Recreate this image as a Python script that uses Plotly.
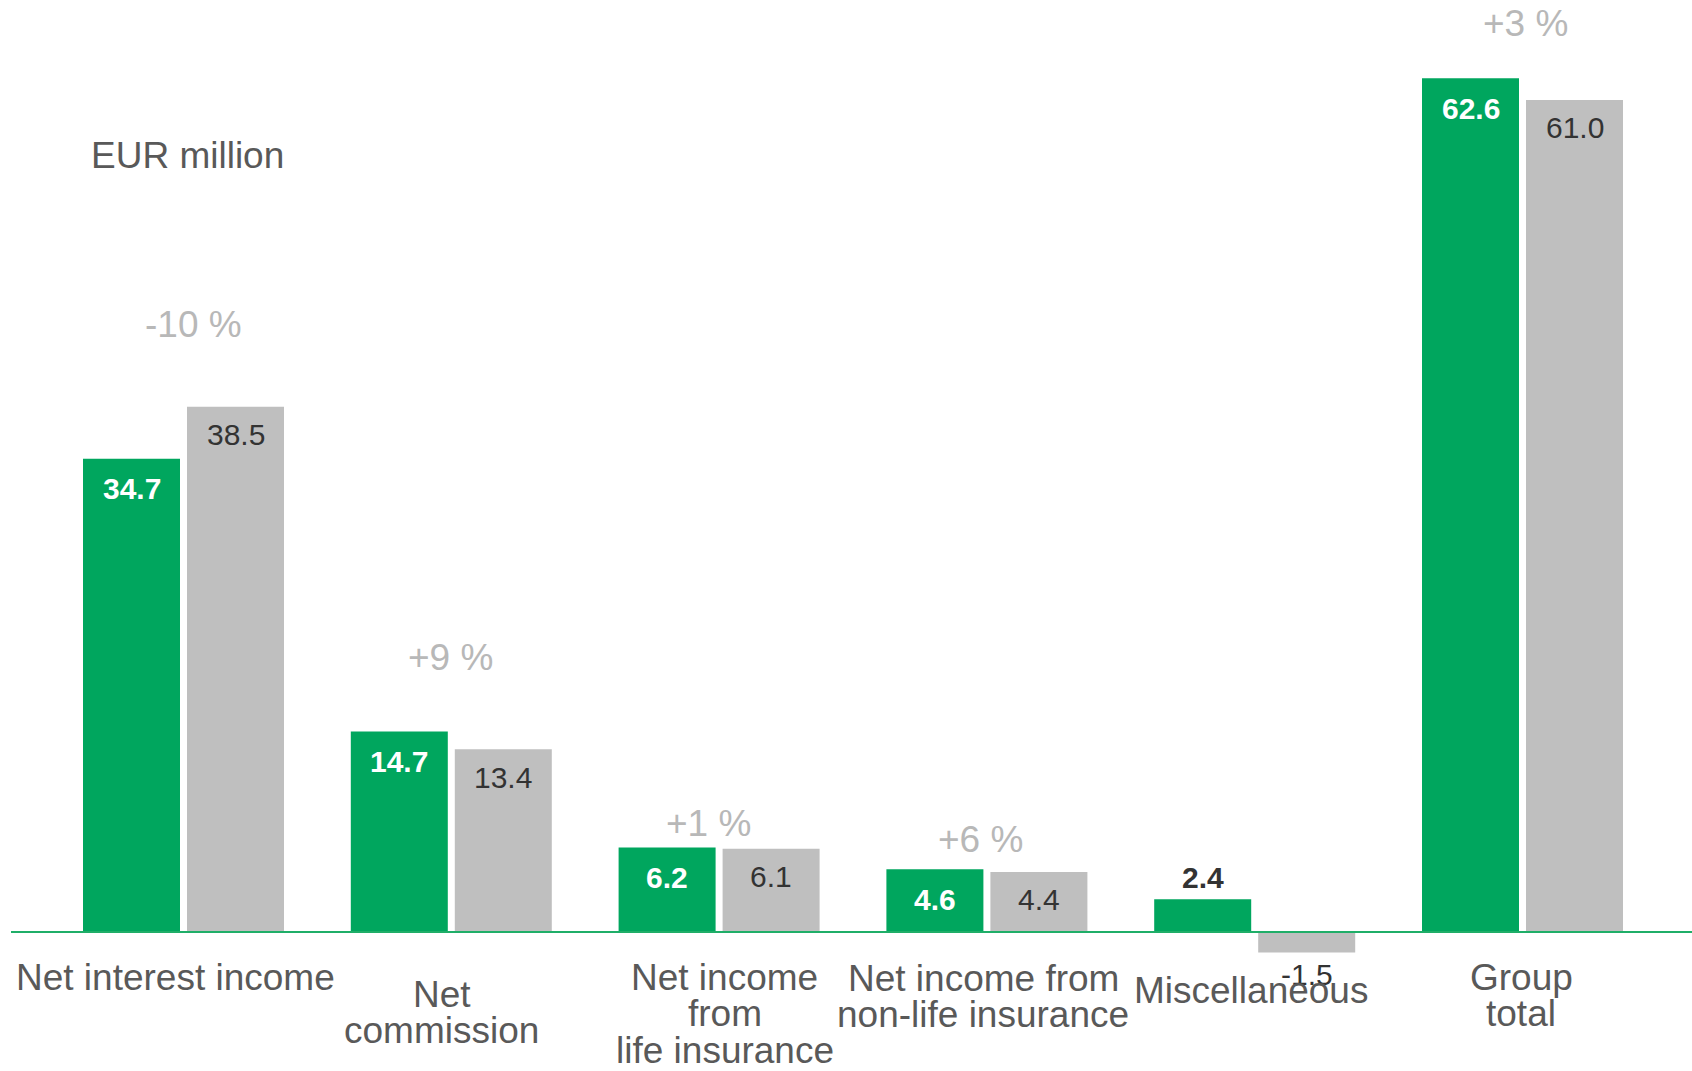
import plotly.graph_objects as go

# ---------------- data ----------------
categories = ["Net interest income", "Net commission", "Net income from life insurance",
              "Net income from non-life insurance", "Miscellaneous", "Group total"]
current_year = [34.7, 14.7, 6.2, 4.6, 2.4, 62.6]
previous_year = [38.5, 13.4, 6.1, 4.4, -1.5, 61.0]
change_labels = ["-10 %", "+9 %", "+1 %", "+6 %", "", "+3 %"]
label_lines = [["Net interest income"], ["Net", "commission"],
               ["Net income", "from", "life insurance"],
               ["Net income from", "non-life insurance"], ["Miscellaneous"],
               ["Group", "total"]]
unit_label = "EUR million"

# ---------------- layout / style ----------------
W, H = 1692, 1071
ML = 11
ZERO_PX = 932
PX_PER_UNIT = 13.64
CAT_PX = 267.8
FIRST_CENTER_PX = 183.5
BARGAP = 0.2233
BARGROUPGAP = 0.0673

GREEN = "#00A65E"
GRAY = "#BFBFBF"
LINE_GREEN = "#1FAE68"
LABEL_COLOR = "#595959"
DARK = "#333333"
PCT_COLOR = "#B8B8B8"
FONT = "Liberation Sans, Arial, sans-serif"
TEXT_SIZE = 37
VALUE_SIZE = 30

# category label placement (pixel y of first line centre, x shift)
label_first_px = [977.5, 994, 977, 978, 990, 977]
label_line_step = 36.5
label_xshift = [-8.5, -9.5, 5.5, -3.5, -3.5, -1.5]
# percent label placement relative to taller bar
pct_xshift = [10, -0.5, -11, -6.5, 0, 2.5]
pct_yshift = [82, 74, 24, 30, 0, 55]

x0 = -(FIRST_CENTER_PX - ML) / CAT_PX
x1 = x0 + (W - ML) / CAT_PX
y0 = -(H - ZERO_PX) / PX_PER_UNIT
y1 = ZERO_PX / PX_PER_UNIT

fig = go.Figure()
fig.add_trace(go.Bar(x=categories, y=current_year, marker=dict(color=GREEN, line=dict(width=0)),
                     name="current", hoverinfo="skip"))
fig.add_trace(go.Bar(x=categories, y=previous_year, marker=dict(color=GRAY, line=dict(width=0)),
                     name="previous", hoverinfo="skip"))

annotations = []
off = (1 - BARGAP) / 4.0
for i, (c, p) in enumerate(zip(current_year, previous_year)):
    # green value labels
    if c >= 3:
        annotations.append(dict(x=i - off, y=c, text=f"<b>{c:.1f}</b>", showarrow=False,
                                yanchor="middle", xanchor="center", yshift=-30,
                                font=dict(size=VALUE_SIZE, color="white", family=FONT)))
    else:
        annotations.append(dict(x=i - off, y=c, text=f"<b>{c:.1f}</b>", showarrow=False,
                                yanchor="middle", xanchor="center", yshift=22,
                                font=dict(size=VALUE_SIZE, color=DARK, family=FONT)))
    # gray value labels
    if p >= 0:
        annotations.append(dict(x=i + off, y=p, text=f"{p:.1f}", showarrow=False,
                                yanchor="middle", xanchor="center", yshift=-28,
                                font=dict(size=VALUE_SIZE, color=DARK, family=FONT)))
    else:
        annotations.append(dict(x=i + off, y=p, text=f"{p:.1f}", showarrow=False,
                                yanchor="middle", xanchor="center", yshift=-22.5,
                                font=dict(size=VALUE_SIZE, color=DARK, family=FONT)))
    # percentage change labels
    if change_labels[i]:
        annotations.append(dict(x=i, y=max(c, p), text=change_labels[i], showarrow=False,
                                yanchor="middle", xanchor="center", yshift=pct_yshift[i],
                                xshift=pct_xshift[i],
                                font=dict(size=TEXT_SIZE, color=PCT_COLOR, family=FONT)))
    # category labels (one annotation per line for tight spacing)
    for j, line in enumerate(label_lines[i]):
        py = label_first_px[i] + j * label_line_step
        annotations.append(dict(x=i, y=0, text=line, showarrow=False,
                                yanchor="middle", xanchor="center",
                                yshift=ZERO_PX - py, xshift=label_xshift[i],
                                font=dict(size=TEXT_SIZE, color=LABEL_COLOR, family=FONT)))

annotations.append(dict(xref="paper", yref="paper", x=0, y=1, text=unit_label, showarrow=False,
                        xanchor="left", yanchor="middle", xshift=92 - ML - 3, yshift=-155,
                        font=dict(size=TEXT_SIZE, color=LABEL_COLOR, family=FONT)))

fig.update_layout(
    width=W, height=H,
    margin=dict(l=ML, r=0, t=0, b=0),
    paper_bgcolor="white", plot_bgcolor="white",
    barmode="group", bargap=BARGAP, bargroupgap=BARGROUPGAP,
    showlegend=False,
    xaxis=dict(type="category", range=[x0, x1], visible=False, fixedrange=True),
    yaxis=dict(range=[y0, y1], visible=False, zeroline=False, fixedrange=True),
    annotations=annotations,
    shapes=[dict(type="line", xref="paper", yref="y", x0=0, x1=1, y0=0, y1=0,
                 line=dict(color=LINE_GREEN, width=2), layer="above")],
    font=dict(family=FONT),
)

fig.write_html("out.html", config={"displayModeBar": False},
               post_script="document.body.style.margin='0';")
